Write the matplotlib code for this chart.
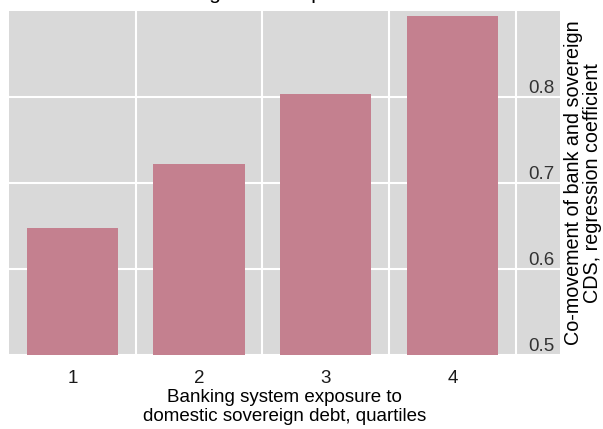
import numpy as np
import matplotlib.pyplot as plt

plt.rcParams['font.family'] = ['Liberation Sans', 'DejaVu Sans']

quartiles = [1, 2, 3, 4]
coefs = [0.648, 0.722, 0.804, 0.894]
yticks = [0.5, 0.6, 0.7, 0.8]
ytick_labels = ['0.5', '0.6', '0.7', '0.8']

fig = plt.figure(figsize=(6.03, 4.29), dpi=100)
ax = fig.add_axes([0.0149, 0.1725, 0.9138, 0.8019])

ax.set_facecolor('#d9d9d9')
ax.bar(quartiles, coefs, width=0.72, color='#c4808f', zorder=2)

ax.set_xlim(0.5, 4.85)
ax.set_ylim(0.5, 0.9)

# white grid, vertical lines sit between the bars
ax.set_xticks(quartiles)
ax.set_xticks([1.5, 2.5, 3.5, 4.5], minor=True)
ax.set_yticks(yticks)
ax.set_yticklabels(ytick_labels)
ax.grid(axis='x', which='minor', color='white', linewidth=1.5)
ax.grid(axis='y', which='major', color='white', linewidth=1.5)
ax.set_axisbelow(True)

for s in ax.spines.values():
    s.set_visible(False)

ax.tick_params(axis='x', which='both', length=0, labelsize=13.5, pad=11, colors='#1a1a1a')
ax.yaxis.tick_right()
ax.tick_params(axis='y', length=0, pad=-4, labelsize=13.5, colors='#333333')
for lab in ax.get_yticklabels():
    lab.set_horizontalalignment('right')
    lab.set_verticalalignment('bottom')

ax.set_xlabel('Banking system exposure to\ndomestic sovereign debt, quartiles',
              fontsize=13.5, labelpad=1, linespacing=1.15)
ax.yaxis.set_label_position('right')
ax.set_ylabel('Co-movement of bank and sovereign\nCDS, regression coefficient',
              fontsize=14.2, labelpad=3, linespacing=1.0)

# title is clipped by the top of the picture
fig.text(0.432, 1.002, 'Banking sector exposure', fontsize=15,
         ha='center', va='baseline')

fig.savefig('out.png', dpi=100)
